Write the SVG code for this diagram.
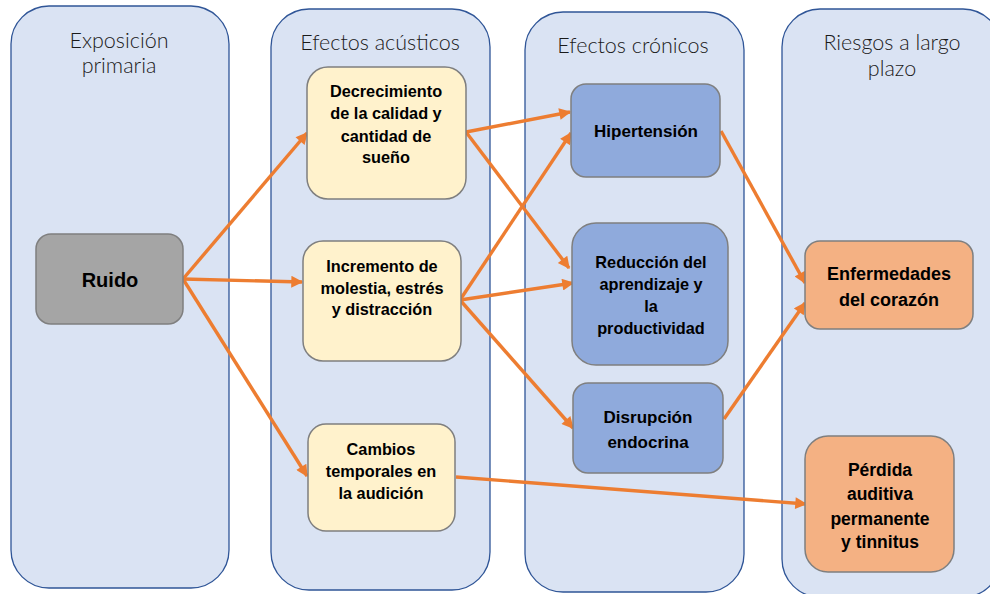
<svg xmlns="http://www.w3.org/2000/svg" width="990" height="594" viewBox="0 0 990 594">
<defs>
<style>
.col{fill:#DAE3F3;stroke:#2F5597;stroke-width:1.3}
.title{font-family:"Lato","Open Sans","Liberation Sans",sans-serif;font-weight:300;font-size:21.5px;fill:#1A1A1A;text-anchor:middle}
.node{stroke:#7F7F7F;stroke-width:1.5}
.gray{fill:#A5A5A5}
.yel{fill:#FFF2CC}
.blue{fill:#8FAADC}
.org{fill:#F4B183}
.lbl{font-family:"Liberation Sans","Arial",sans-serif;font-weight:bold;font-size:16.3px;fill:#000;text-anchor:middle}
.conn{stroke:#ED7D31;stroke-width:3.4;fill:none;marker-end:url(#arr)}
</style>
<marker id="arr" viewBox="0 0 10 10" refX="9" refY="5" markerWidth="4" markerHeight="3.5" orient="auto" markerUnits="strokeWidth">
<path d="M0,0 L10,5 L0,10 z" fill="#ED7D31"/>
</marker>
</defs>
<rect width="990" height="594" fill="#FFFFFF"/>

<g id="col-exposicion">
<rect class="col" x="11" y="6" width="218" height="582" rx="38" ry="38"/>
<text class="title" x="119" y="48">Exposición</text>
<text class="title" x="119" y="73">primaria</text>
</g>
<g id="col-acusticos">
<rect class="col" x="271" y="9" width="219" height="581" rx="38" ry="38"/>
<text class="title" x="380" y="50">Efectos acústicos</text>
</g>
<g id="col-cronicos">
<rect class="col" x="525" y="12" width="219" height="580" rx="38" ry="38"/>
<text class="title" x="633" y="53">Efectos crónicos</text>
</g>
<g id="col-riesgos">
<rect class="col" x="782" y="9" width="219" height="588" rx="38" ry="38"/>
<text class="title" x="892" y="50">Riesgos a largo</text>
<text class="title" x="892" y="76">plazo</text>
</g>

<g id="connectors">
<path class="conn" d="M183,279 L307,133"/>
<path class="conn" d="M183,279 L302,282"/>
<path class="conn" d="M183,279 L307,476"/>
<path class="conn" d="M466,132 L570,112"/>
<path class="conn" d="M466,132 L569,268"/>
<path class="conn" d="M460,300 L571,133"/>
<path class="conn" d="M460,300 L573,283"/>
<path class="conn" d="M460,300 L573,428"/>
<path class="conn" d="M721,131 L805,283"/>
<path class="conn" d="M724,419 L805,303"/>
<path class="conn" d="M456,477 L806,504"/>
</g>

<g id="ruido">
<rect class="node gray" x="36" y="234" width="147" height="90" rx="15"/>
<text class="lbl" x="110" y="287" style="font-size:20px">Ruido</text>
</g>
<g id="decrecimiento">
<rect class="node yel" x="307" y="67" width="159" height="132" rx="21"/>
<text class="lbl" x="386" y="97">Decrecimiento</text>
<text class="lbl" x="386" y="119">de la calidad y</text>
<text class="lbl" x="386" y="142">cantidad de</text>
<text class="lbl" x="386" y="163">sueño</text>
</g>
<g id="incremento">
<rect class="node yel" x="303" y="241" width="158" height="120" rx="20"/>
<text class="lbl" x="382" y="272">Incremento de</text>
<text class="lbl" x="382" y="294">molestia, estrés</text>
<text class="lbl" x="382" y="315">y distracción</text>
</g>
<g id="cambios">
<rect class="node yel" x="308" y="424" width="147" height="107" rx="18"/>
<text class="lbl" x="381" y="455">Cambios</text>
<text class="lbl" x="381" y="477">temporales en</text>
<text class="lbl" x="381" y="499">la audición</text>
</g>
<g id="hipertension">
<rect class="node blue" x="571" y="84" width="149" height="93" rx="15"/>
<text class="lbl" x="646" y="137" style="font-size:17px">Hipertensión</text>
</g>
<g id="reduccion">
<rect class="node blue" x="572" y="223" width="156" height="142" rx="24"/>
<text class="lbl" x="651" y="268">Reducción del</text>
<text class="lbl" x="651" y="290">aprendizaje y</text>
<text class="lbl" x="651" y="312">la</text>
<text class="lbl" x="651" y="334">productividad</text>
</g>
<g id="disrupcion">
<rect class="node blue" x="573" y="383" width="150" height="90" rx="15"/>
<text class="lbl" x="648" y="423" style="font-size:17px">Disrupción</text>
<text class="lbl" x="648" y="448" style="font-size:17px">endocrina</text>
</g>
<g id="enfermedades">
<rect class="node org" x="805" y="241" width="168" height="88" rx="15"/>
<text class="lbl" x="889" y="280" style="font-size:18px">Enfermedades</text>
<text class="lbl" x="889" y="306" style="font-size:18px">del corazón</text>
</g>
<g id="perdida">
<rect class="node org" x="805" y="436" width="149" height="136" rx="23"/>
<text class="lbl" x="880" y="476" style="font-size:17.5px">Pérdida</text>
<text class="lbl" x="880" y="500" style="font-size:17.5px">auditiva</text>
<text class="lbl" x="880" y="525" style="font-size:17.5px">permanente</text>
<text class="lbl" x="880" y="548" style="font-size:17.5px">y tinnitus</text>
</g>
</svg>
